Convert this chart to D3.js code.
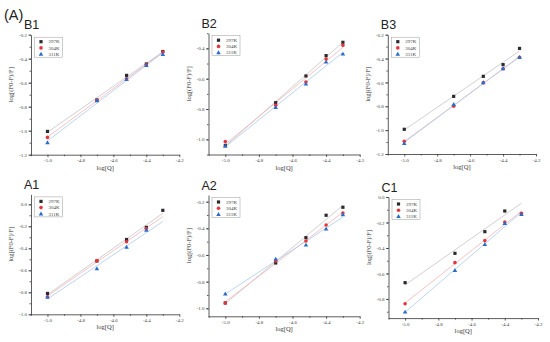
<!DOCTYPE html>
<html>
<head>
<meta charset="utf-8">
<script src="https://cdn.jsdelivr.net/npm/d3@7"></script>
<style>
  body { margin: 0; background: #fff; }
  svg { display: block; }
  .tick text { font-family: "Liberation Serif", "DejaVu Serif", serif; }
</style>
</head>
<body>
<div id="chart"></div>
<script>
// x values: log of quencher concentration
const logQ = [-5.0, -4.70, -4.52, -4.40, -4.30];
const temps = ["297K", "304K", "311K"];
const xTicks = [-5.0, -4.8, -4.6, -4.4, -4.2];

// log[(F0-F)/F] values, null = point not shown
const b1_297 = [-1.006, -0.744, -0.539, -0.444, -0.340];
const b1_304 = [-1.056, -0.746, -0.567, -0.450, -0.345];
const b1_311 = [-1.100, -0.750, -0.572, -0.456, -0.364];

const b2_297 = [-1.040, -0.758, -0.582, -0.448, -0.360];
const b2_304 = [-1.015, -0.776, -0.622, -0.470, -0.380];
const b2_311 = [-1.045, -0.789, -0.635, -0.490, -0.437];

const b3_297 = [-0.993, -0.717, -0.549, -0.451, -0.315];
const b3_304 = [-1.094, -0.800, -0.602, -0.485, -0.390];
const b3_311 = [-1.110, -0.784, -0.602, -0.485, -0.390];

const a1_297 = [-0.810, -0.515, -0.320, -0.210, -0.055];
const a1_304 = [-0.840, -0.512, -0.340, -0.220, null];
const a1_311 = [-0.845, -0.585, -0.390, -0.235, null];

const a2_297 = [-0.960, -0.660, -0.470, -0.302, -0.242];
const a2_304 = [-0.960, -0.645, -0.495, -0.375, -0.285];
const a2_311 = [-0.892, -0.630, -0.525, -0.405, -0.297];

const c1_297 = [-0.672, -0.442, -0.272, -0.110, null];
const c1_304 = [-0.837, -0.515, -0.342, -0.196, -0.128];
const c1_311 = [-0.902, -0.575, -0.371, -0.207, -0.136];

const panels = [
  { name: "B1", box: [31, 179.3, 34.7, 154.7], yDomain: [-1.2, -0.2],
    yTicks: [-1.2, -1.0, -0.8, -0.6, -0.4, -0.2], series: [b1_297, b1_304, b1_311] },
  { name: "B2", box: [208.5, 359.7, 33.2, 154.5], yDomain: [-1.1, -0.3],
    yTicks: [-1.0, -0.8, -0.6, -0.4], series: [b2_297, b2_304, b2_311] },
  { name: "B3", box: [387.8, 536, 34.7, 154], yDomain: [-1.2, -0.2],
    yTicks: [-1.2, -1.0, -0.8, -0.6, -0.4, -0.2], series: [b3_297, b3_304, b3_311] },
  { name: "A1", box: [31, 179.3, 194.4, 314.3], yDomain: [-1.0, 0.09],
    yTicks: [-1.0, -0.8, -0.6, -0.4, -0.2, 0.0], series: [a1_297, a1_304, a1_311] },
  { name: "A2", box: [208.5, 359.7, 195, 316.3], yDomain: [-1.06, -0.15],
    yTicks: [-1.0, -0.8, -0.6, -0.4, -0.2], series: [a2_297, a2_304, a2_311] },
  { name: "C1", box: [388.5, 538, 197, 318.1], yDomain: [-0.95, 0.0],
    yTicks: [-0.8, -0.6, -0.4, -0.2, 0.0], series: [c1_297, c1_304, c1_311] }
];

const colors = ["#2b2b2b", "#e5343c", "#2a6dc8"];
const fitColors = ["#c4c4c4", "#f2b4b6", "#a9c9ec"];
const fmt = (d) => d3.format(".1f")(d).replace("\u2212", "-");

const svg = d3.select("#chart").append("svg")
  .attr("width", 550).attr("height", 342);

svg.append("text").attr("x", 4).attr("y", 20)
  .style("font-family", "Liberation Sans, Arial, sans-serif")
  .style("font-size", "14.5px").attr("fill", "#222").text("(A)");

const marker = (g, k, cx, cy) => {
  if (k === 0) {
    g.append("rect").attr("x", cx - 1.6).attr("y", cy - 1.6)
      .attr("width", 3.2).attr("height", 3.2).attr("fill", colors[0]);
  } else if (k === 1) {
    g.append("circle").attr("cx", cx).attr("cy", cy).attr("r", 1.8).attr("fill", colors[1]);
  } else {
    g.append("path").attr("d", d3.symbol().type(d3.symbolTriangle).size(9)())
      .attr("transform", `translate(${cx},${cy + 0.3})`).attr("fill", colors[2]);
  }
};

panels.forEach((p) => {
  const [x0, x1, y0, y1] = p.box;
  const x = d3.scaleLinear().domain([-5.1, -4.2]).range([x0, x1]);
  const y = d3.scaleLinear().domain(p.yDomain).range([y1, y0]);
  const g = svg.append("g");

  // minor ticks
  const xMinor = [-5.1, -4.9, -4.7, -4.5, -4.3];
  g.append("g").attr("transform", `translate(0,${y1})`)
    .call(d3.axisBottom(x).tickValues(xMinor).tickSize(1.5).tickFormat(""))
    .call((a) => a.select(".domain").remove());
  const yMinor = d3.range(Math.ceil(p.yDomain[0] * 10), Math.floor(p.yDomain[1] * 10) + 1)
    .map((v) => v / 10);
  g.append("g").attr("transform", `translate(${x0},0)`)
    .call(d3.axisLeft(y).tickValues(yMinor).tickSize(1.5).tickFormat(""))
    .call((a) => a.select(".domain").remove());

  // major axes
  const xa = g.append("g").attr("transform", `translate(0,${y1})`)
    .call(d3.axisBottom(x).tickValues(xTicks).tickSize(2.5).tickSizeOuter(0)
      .tickPadding(1.5).tickFormat(fmt));
  const ya = g.append("g").attr("transform", `translate(${x0},0)`)
    .call(d3.axisLeft(y).tickValues(p.yTicks).tickSize(2.5).tickSizeOuter(0)
      .tickPadding(1.5).tickFormat(fmt));
  [xa, ya].forEach((a) => {
    a.selectAll("path, line").attr("stroke", "#333").attr("stroke-width", 0.8);
    a.selectAll("text").attr("fill", "#444").style("font-size", "5px");
  });
  g.selectAll("line").attr("stroke", "#333").attr("stroke-width", 0.8);

  // axis titles
  g.append("text").attr("x", (x0 + x1) / 2).attr("y", y1 + 15)
    .attr("text-anchor", "middle").attr("fill", "#333")
    .style("font-family", "Liberation Serif, serif").style("font-size", "6.5px")
    .text("log[Q]");
  g.append("text")
    .attr("transform", `translate(${x0 - 18},${(y0 + y1) / 2 - 10}) rotate(-90)`)
    .attr("text-anchor", "middle").attr("fill", "#333")
    .style("font-family", "Liberation Serif, serif").style("font-size", "6.5px")
    .text("log[(F0-F)/F]");

  // panel label
  g.append("text").attr("x", x0 - 7).attr("y", y0 - 5.5)
    .style("font-family", "Liberation Sans, Arial, sans-serif")
    .style("font-size", "12.5px").attr("fill", "#222").text(p.name);

  // fit lines then points
  p.series.forEach((vals, k) => {
    const pts = logQ.map((q, i) => [q, vals[i]]).filter((d) => d[1] !== null);
    const mx = d3.mean(pts, (d) => d[0]), my = d3.mean(pts, (d) => d[1]);
    const slope = d3.sum(pts, (d) => (d[0] - mx) * (d[1] - my)) /
      d3.sum(pts, (d) => (d[0] - mx) ** 2);
    const fit = [logQ[0], logQ[logQ.length - 1]].map((q) => [q, my + slope * (q - mx)]);
    g.append("path").datum(fit)
      .attr("d", d3.line().x((d) => x(d[0])).y((d) => y(d[1])))
      .attr("fill", "none").attr("stroke", fitColors[k]).attr("stroke-width", 0.8);
  });
  p.series.forEach((vals, k) => {
    logQ.forEach((q, i) => {
      if (vals[i] !== null) marker(g, k, x(q), y(vals[i]));
    });
  });

  // legend
  const lx = x0 + 3.5, ly = y0 + 2.5;
  g.append("rect").attr("x", lx).attr("y", ly).attr("width", 28).attr("height", 20)
    .attr("fill", "#fff").attr("stroke", "#999").attr("stroke-width", 0.5);
  temps.forEach((t, k) => {
    const ty = ly + 4.5 + k * 6.2;
    marker(g, k, lx + 6.5, ty);
    g.append("text").attr("x", lx + 14).attr("y", ty + 1.7).attr("fill", "#444")
      .style("font-family", "Liberation Serif, serif").style("font-size", "5px").text(t);
  });
});
</script>
</body>
</html>
